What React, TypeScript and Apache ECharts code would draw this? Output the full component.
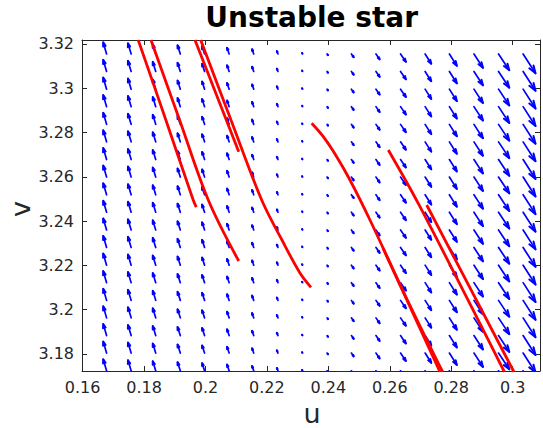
import React, { useEffect, useRef } from "react";
import * as echarts from "echarts";

// Axis ranges and tick labels
const xMin = 0.1598;
const xMax = 0.3089;
const yMin = 3.1723;
const yMax = 3.3218;
const xTickLabels = ["0.16", "0.18", "0.2", "0.22", "0.24", "0.26", "0.28", "0.3"];
const yTickLabels = ["3.18", "3.2", "3.22", "3.24", "3.26", "3.28", "3.3", "3.32"];

// Quiver grid (arrow tails)
const gridU = [
  0.1678, 0.1758, 0.1838, 0.1918, 0.1997, 0.2077, 0.2157, 0.2236, 0.2316,
  0.2396, 0.2475, 0.2555, 0.2635, 0.2715, 0.2794, 0.2874, 0.2954, 0.3034,
];
const gridV = [
  3.3155, 3.3076, 3.2996, 3.2917, 3.2837, 3.2758, 3.2678, 3.2599, 3.2519,
  3.244, 3.236, 3.2281, 3.2201, 3.2122, 3.2042, 3.1963, 3.1883, 3.1804, 3.1724,
];
// Arrow components per column
const colDU = [
  -0.00109, -0.00103, -0.00096, -0.00089, -0.00081, -0.00068, -0.00054, -0.00036,
  -0.00015, 0.00028, 0.00075, 0.00119, 0.00174, 0.002, 0.00243, 0.00293, 0.0035, 0.00404,
];
const colDV = [
  0.0052, 0.00476, 0.00431, 0.00387, 0.00343, 0.00278, 0.00213, 0.00126,
  0.0004, -0.00056, -0.00148, -0.00243, -0.00355, -0.0044, -0.00535, -0.00625, -0.00735, -0.00875,
];

// Trajectories [u, v]
const trajA = [[0.1781, 3.3218], [0.1871, 3.2857], [0.1960, 3.2495], [0.1970, 3.2463]];
const trajB = [[0.18226, 3.3218], [0.19157, 3.28567], [0.20091, 3.24953], [0.21083, 3.22198]];
const trajC = [[0.19658, 3.3218], [0.21083, 3.27135]];
const trajD = [
  [0.19844, 3.3218], [0.2083, 3.28567], [0.2183, 3.24953], [0.2249, 3.23147],
  [0.23076, 3.21656], [0.23434, 3.2101],
];
const trajE = [
  [0.23457, 3.28418], [0.23835, 3.27812], [0.24271, 3.26909], [0.24704, 3.25857],
  [0.25355, 3.2405], [0.26494, 3.20663], [0.27722, 3.17185],
];
const trajE2 = [[0.25778, 3.22785], [0.27634, 3.17185]];
const trajF = [[0.25951, 3.27212], [0.26983, 3.24651], [0.29733, 3.17185]];
const trajG = [[0.27201, 3.24727], [0.30043, 3.17185]];
const trajectories = [trajA, trajB, trajC, trajD, trajE, trajE2, trajF, trajG];

const axisColor = "#262626";
const font = "DejaVu Sans";

function fmt(labels: string[]) {
  return (val: number) => {
    const hit = labels.find((l) => Math.abs(parseFloat(l) - val) < 1e-6);
    return hit ?? "";
  };
}

export default function App() {
  const ref = useRef<HTMLDivElement>(null);
  useEffect(() => {
    if (!ref.current) return;
    const chart = echarts.init(ref.current, null, { renderer: "svg" });
    const quiverData: number[][] = [];
    gridU.forEach((u, i) => {
      gridV.forEach((v) => {
        quiverData.push([u, v, colDU[i], colDV[i]]);
      });
    });
    const baseAxis = {
      type: "value",
      splitLine: { show: false },
      axisLine: { show: true, onZero: false, lineStyle: { color: axisColor, width: 1 } },
      axisTick: { show: true, inside: true, length: 5, lineStyle: { color: axisColor } },
      minInterval: 0.02,
      maxInterval: 0.02,
    };
    const grid = { left: 82, right: 3, top: 40, bottom: 57 };
    chart.setOption({
      animation: false,
      grid,
      xAxis: [
        {
          ...baseAxis,
          min: xMin,
          max: xMax,
          axisLabel: {
            color: axisColor,
            fontSize: 16,
            fontFamily: font,
            margin: 8,
            formatter: fmt(xTickLabels),
          },
        },
        { ...baseAxis, min: xMin, max: xMax, position: "top", axisLabel: { show: false } },
      ],
      yAxis: [
        {
          ...baseAxis,
          min: yMin,
          max: yMax,
          axisLabel: {
            color: axisColor,
            fontSize: 16,
            fontFamily: font,
            margin: 8,
            formatter: fmt(yTickLabels),
          },
        },
        { ...baseAxis, min: yMin, max: yMax, position: "right", axisLabel: { show: false } },
      ],
      graphic: [
        {
          type: "text",
          x: 311.7,
          y: 17.6,
          style: {
            text: "Unstable star",
            font: `bold 28px "${font}"`,
            fill: "#000000",
            align: "center",
            verticalAlign: "middle",
          },
        },
        {
          type: "text",
          x: 312,
          y: 413.7,
          style: {
            text: "u",
            font: `27px "${font}"`,
            fill: axisColor,
            align: "center",
            verticalAlign: "middle",
          },
        },
        {
          type: "text",
          x: 20,
          y: 209,
          rotation: Math.PI / 2,
          style: {
            text: "v",
            font: `27px "${font}"`,
            fill: axisColor,
            align: "center",
            verticalAlign: "middle",
          },
        },
      ],
      series: [
        {
          type: "custom",
          clip: true,
          encode: { x: 0, y: 1 },
          data: quiverData,
          renderItem: (params: any, api: any) => {
            const u = api.value(0);
            const v = api.value(1);
            const du = api.value(2);
            const dv = api.value(3);
            const p0 = api.coord([u, v]);
            const p1 = api.coord([u + du, v + dv]);
            const dx = p1[0] - p0[0];
            const dy = p1[1] - p0[1];
            const a = 0.33;
            const b = 0.33;
            const h1 = [p1[0] - a * (dx + b * dy), p1[1] - a * (dy - b * dx)];
            const h2 = [p1[0] - a * (dx - b * dy), p1[1] - a * (dy + b * dx)];
            const st = { stroke: "#0000ff", lineWidth: 1.7, fill: null, lineCap: "round", lineJoin: "round" };
            return {
              type: "group",
              children: [
                { type: "line", shape: { x1: p0[0], y1: p0[1], x2: p1[0], y2: p1[1] }, style: st },
                { type: "polyline", shape: { points: [h1, p1, h2] }, style: { ...st, lineWidth: 2 } },
              ],
            };
          },
        },
        ...trajectories.map((t) => ({
          type: "line",
          data: t,
          showSymbol: false,
          symbol: "none",
          clip: true,
          smooth: t.length > 2 ? 0.35 : false,
          lineStyle: { color: "#ff0000", width: 2.8 },
        })),
      ],
    });
    return () => chart.dispose();
  }, []);
  return (
    <div
      ref={ref}
      style={{ position: "absolute", left: 0, top: 0, width: 543, height: 428, background: "#ffffff" }}
    />
  );
}
